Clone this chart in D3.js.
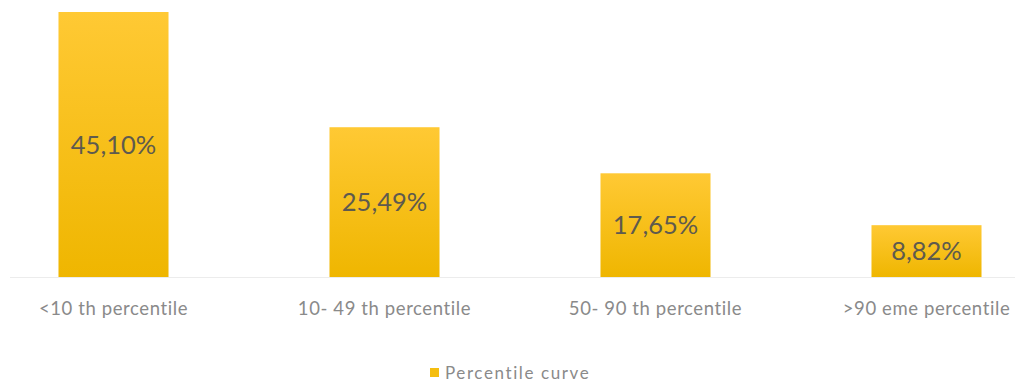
<!DOCTYPE html>
<html><head><meta charset="utf-8">
<script src="https://cdn.jsdelivr.net/npm/d3@7"></script>
<style>body{margin:0;background:#fff}svg{display:block}</style>
</head><body>
<svg id="c" width="1025" height="386"></svg>
<script>
const categories = ["<10 th percentile", "10- 49 th percentile", "50- 90 th percentile", ">90 eme percentile"];
const values = [45.10, 25.49, 17.65, 8.82];
const valueLabels = ["45,10%", "25,49%", "17,65%", "8,82%"];
const seriesName = "Percentile curve";

const svg = d3.select("#c");
const baseY = 277;
const x = d3.scaleBand().domain(categories).range([-22, 1062]).paddingInner(0.594).paddingOuter(0.297);
const y = d3.scaleLinear().domain([0, 45.10]).range([baseY, 12]);

const defs = svg.append("defs");
const g = defs.append("linearGradient").attr("id","gr").attr("x1",0).attr("y1",0).attr("x2",0).attr("y2",1);
g.append("stop").attr("offset","0%").attr("stop-color","#ffc934");
g.append("stop").attr("offset","100%").attr("stop-color","#efb600");

svg.append("line").attr("x1",10).attr("x2",1015).attr("y1",baseY+0.5).attr("y2",baseY+0.5)
  .attr("stroke","#ececec").attr("stroke-width",1);

svg.selectAll("rect.bar").data(values).join("rect").attr("class","bar")
  .attr("x",(d,i)=>x(categories[i])).attr("width",x.bandwidth())
  .attr("y",d=>y(d)).attr("height",d=>baseY-y(d)).attr("fill","url(#gr)");

svg.selectAll("text.val").data(values).join("text").attr("class","val")
  .attr("x",(d,i)=>x(categories[i])+x.bandwidth()/2)
  .attr("y",d=>(y(d)+baseY)/2+9)
  .attr("text-anchor","middle").attr("font-family","Lato, 'Open Sans', sans-serif")
  .attr("font-size",25.5).attr("fill","#5e5a4e").text((d,i)=>valueLabels[i]);

const xAxis = d3.axisBottom(x).tickSize(0).tickPadding(0);
const ax = svg.append("g").attr("transform",`translate(0,${baseY})`).call(xAxis);
ax.select(".domain").remove();
ax.selectAll("text").attr("dy",0).attr("y",38).attr("font-family","Lato, 'Open Sans', sans-serif")
  .attr("font-size",18.5).attr("letter-spacing",0.6).attr("fill","#8a8a8a");

svg.append("rect").attr("x",430).attr("y",368).attr("width",9).attr("height",9).attr("fill","#f5be10");
svg.append("text").attr("x",445).attr("y",379).attr("font-family","Lato, 'Open Sans', sans-serif")
  .attr("font-size",17).attr("letter-spacing",1.6).attr("fill","#8a8a8a").text(seriesName);
</script>
</body></html>
